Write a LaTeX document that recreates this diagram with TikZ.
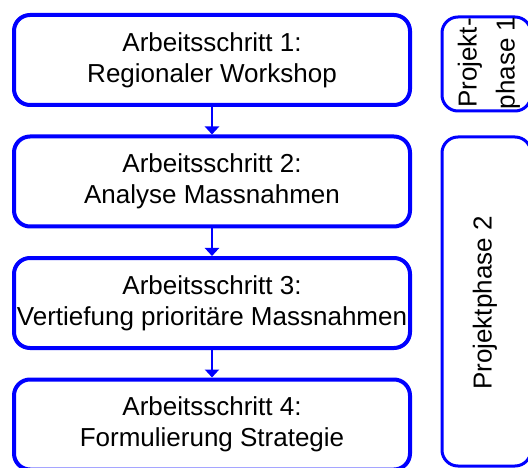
\documentclass[tikz,border=0pt]{standalone}
\usepackage{fontspec}
\setmainfont{Liberation Sans}
\usetikzlibrary{arrows.meta}
\definecolor{pureblue}{RGB}{0,0,255}
\begin{document}
\begin{tikzpicture}[x=1pt,y=-1pt,
  stepbox/.style={draw=pureblue, line width=4pt, rounded corners=16pt,
    minimum width=396pt, minimum height=90pt, align=center,
    font=\fontsize{26pt}{31pt}\selectfont, inner sep=0pt},
  phasebox/.style={draw=pureblue, line width=3pt, rounded corners=16pt},
  phasetext/.style={rotate=90, align=center, font=\fontsize{26pt}{38pt}\selectfont, inner sep=0pt},
  flow/.style={draw=pureblue, line width=2pt, -{Triangle[width=14pt,length=8pt]}}]
\useasboundingbox (0,0) rectangle (528,468);
\node[stepbox] (b1) at (212,60) {Arbeitsschritt 1:\\Regionaler Workshop};
\node[stepbox] (b2) at (212,181.5) {Arbeitsschritt 2:\\Analyse Massnahmen};
\node[stepbox] (b3) at (212,303) {Arbeitsschritt 3:\\Vertiefung prioritäre Massnahmen};
\node[stepbox] (b4) at (212,424.5) {Arbeitsschritt 4:\\Formulierung Strategie};
\draw[flow] (b1.south) -- (b2.north);
\draw[flow] (b2.south) -- (b3.north);
\draw[flow] (b3.south) -- (b4.north);
\draw[phasebox] (442,17) rectangle (531,111);
\node[phasetext] (p1) at (489,63) {Projekt-\\phase 1};
\draw[phasebox] (442,137) rectangle (531,466);
\node[phasetext] (p2) at (485,303) {Projektphase 2};
\end{tikzpicture}
\end{document}
